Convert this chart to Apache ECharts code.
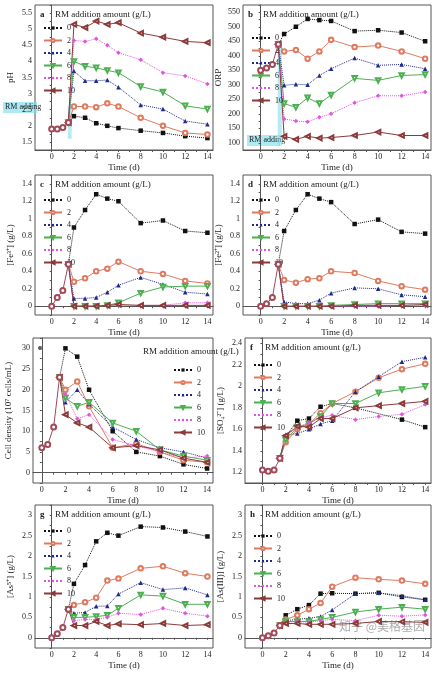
<!DOCTYPE html>
<html>
<head>
<meta charset="utf-8">
<script src="https://cdn.jsdelivr.net/npm/echarts@6/dist/echarts.min.js"></script>
<style>
  html, body { margin: 0; padding: 0; background: #fff; }
  #chart { width: 437px; height: 673px; }
</style>
</head>
<body>
<div id="chart"></div>
<script>
// time points
const preTimes = [0, 0.5, 1, 1.5];
const times = [2, 3, 4, 5, 6, 8, 10, 12, 14];
const doses = ['0', '2', '4', '6', '8', '10'];

// a: pH
const phPre = [1.9, 1.9, 1.95, 2.1];
const phData = [
    [2.3, 2.25, 2.08, 2.0, 1.93, 1.85, 1.78, 1.68, 1.62],
    [2.6, 2.6, 2.58, 2.7, 2.6, 2.25, 2.0, 1.78, 1.73],
    [3.7, 3.4, 3.4, 3.42, 3.2, 2.65, 2.52, 2.15, 2.05],
    [4.0, 3.85, 3.8, 3.72, 3.65, 3.22, 3.05, 2.62, 2.52],
    [4.65, 4.62, 4.7, 4.5, 4.27, 4.05, 3.65, 3.55, 3.3],
    [5.15, 5.05, 5.25, 5.15, 5.2, 4.88, 4.75, 4.62, 4.58]
];
// b: ORP
const orpPre = [350, 358, 370, 440];
const orpData = [
    [475, 500, 527, 523, 520, 485, 488, 480, 450],
    [415, 420, 390, 415, 455, 430, 435, 415, 390],
    [298, 302, 300, 332, 355, 392, 367, 370, 355],
    [235, 222, 255, 235, 265, 322, 315, 332, 335],
    [182, 175, 172, 188, 200, 238, 262, 262, 275],
    [122, 112, 122, 116, 118, 125, 137, 125, 125]
];
// c: Fe3+
const fe3Pre = [0, 0.1, 0.18, 0.48];
const fe3Data = [
    [0.9, 1.1, 1.28, 1.23, 1.2, 0.95, 0.98, 0.86, 0.84],
    [0.28, 0.32, 0.4, 0.43, 0.51, 0.4, 0.37, 0.29, 0.26],
    [0.09, 0.09, 0.1, 0.16, 0.24, 0.33, 0.25, 0.16, 0.14],
    [0, 0, 0, 0.01, 0.04, 0.15, 0.22, 0.23, 0.23],
    [0.01, 0.01, 0.01, 0.01, 0.01, 0.01, 0.01, 0.04, 0.04],
    [0, 0, 0, 0.01, 0.02, 0.01, 0.01, 0.01, 0.01]
];
// d: Fe2+
const fe2Pre = [0, 0.03, 0.1, 0.48];
const fe2Data = [
    [0.86, 1.1, 1.28, 1.23, 1.19, 0.94, 0.99, 0.85, 0.83],
    [0.3, 0.27, 0.31, 0.32, 0.4, 0.38, 0.29, 0.23, 0.19],
    [0.05, 0.03, 0.03, 0.07, 0.15, 0.21, 0.2, 0.13, 0.11],
    [0, 0, 0, 0, 0.01, 0.02, 0.03, 0.03, 0.03],
    [0, 0, 0, 0, 0, 0, 0, 0.01, 0.01],
    [0, 0, 0, 0, 0, 0.01, 0.01, 0.01, 0.02]
];
// e: cell density (no sample at day 5)
const cellPre = [6, 6.8, 11, 23];
const cellData = [
    [30, 28, 20, null, 10, 5, 4, 2, 1],
    [20, 22, 16, null, 6, 7, 5, 3, 2.5],
    [17, 20, 16.5, null, 11, 8, 6, 5, 3.5],
    [18, 16, 17, null, 12, 10, 5.5, 4, 3],
    [19, 13, 14, null, 8, 6.5, 5, 3.5, 4],
    [14, 12, 11, null, 6, 6.5, 5.5, 3.5, 2.5]
];
// f: SO4 2-
const so4Pre = [1.22, 1.21, 1.22, 1.33];
const so4Data = [
    [1.53, 1.68, 1.7, 1.81, 1.84, 1.8, null, 1.69, 1.62],
    [1.48, 1.6, 1.65, 1.75, 1.84, 1.95, 2.08, 2.16, 2.21],
    [1.55, 1.56, 1.6, 1.65, 1.68, 1.95, 2.09, 2.23, 2.27],
    [1.5, 1.62, 1.65, 1.72, 1.84, 1.84, 1.94, 1.97, 2.0],
    [1.54, 1.62, 1.66, 1.71, 1.73, 1.69, 1.72, 1.74, 1.83],
    [1.54, 1.63, 1.62, 1.7, 1.7, 1.8, 1.82, 1.84, 1.86]
];
// g: As5+
const as5Pre = [0, 0.1, 0.25, 0.7];
const as5Data = [
    [1.32, 1.78, 2.36, 2.57, 2.5, 2.72, 2.7, 2.6, 2.48],
    [0.8, 0.87, 0.98, 1.4, 1.45, 1.7, 1.75, 1.58, 1.5],
    [0.6, 0.62, 0.77, 0.78, 1.07, 1.35, 1.18, 1.22, 1.05],
    [0.5, 0.5, 0.52, 0.55, 0.72, 1.05, 1.02, 0.82, 0.82],
    [0.42, 0.45, 0.45, 0.5, 0.6, 0.57, 0.72, 0.6, 0.53],
    [0.3, 0.3, 0.4, 0.3, 0.34, 0.32, 0.35, 0.3, 0.32]
];
// h: As(III)
const as3Pre = [0, 0.05, 0.12, 0.3];
const as3Data = [
    [0.55, 0.7, 0.8, 1.08, 1.09, 1.08, 1.1, 1.0, 0.93],
    [0.45, 0.55, 0.7, 0.85, 1.25, 1.47, 1.43, 1.4, 1.32],
    [0.42, 0.45, 0.48, 0.52, 0.68, 1.08, 1.1, 1.03, 0.93],
    [0.4, 0.4, 0.4, 0.45, 0.5, 0.63, 0.7, 0.75, 0.7],
    [0.38, 0.4, 0.38, 0.42, 0.45, 0.42, 0.55, 0.53, 0.56],
    [0.35, 0.35, 0.33, 0.33, 0.33, 0.35, 0.4, 0.39, 0.38]
];

const colors = ['#111111', '#e07a5f', '#1f2a8a', '#4caf50', '#e055e0', '#8b3a3a'];
const symbols = ['rect', 'emptyCircle', 'triangle', 'emptyTriangle', 'diamond', 'emptyTriangle'];
const rotates = [0, 0, 0, 180, 0, 90];
const dashed = [true, false, true, false, true, false];
const preColor = '#a04a5a';
const serif = 'Liberation Serif';

const panels = [
    { key: 'a', pre: phPre, data: phData, name: 'pH', min: 1.25, max: 5.75, step: 0.25, show: 0.5,
      rect: { left: 35, top: 5, width: 178, height: 145 }, legend: { left: 38, top: 19 }, adding: [1.6, 2.6] },
    { key: 'b', pre: orpPre, data: orpData, name: 'ORP', min: 75, max: 575, step: 25, show: 50,
      rect: { left: 243, top: 5, width: 188, height: 145 }, legend: { left: 246, top: 29 }, adding: [90, 440] },
    { key: 'c', pre: fe3Pre, data: fe3Data, name: '[Fe³⁺] (g/L)', min: -0.1, max: 1.5, step: 0.1, show: 0.2,
      rect: { left: 35, top: 175, width: 178, height: 140 }, legend: { left: 38, top: 191 } },
    { key: 'd', pre: fe2Pre, data: fe2Data, name: '[Fe²⁺] (g/L)', min: -0.1, max: 1.5, step: 0.1, show: 0.2,
      rect: { left: 243, top: 175, width: 188, height: 140 }, legend: { left: 246, top: 191 } },
    { key: 'e', pre: cellPre, data: cellData, name: 'Cell density (10⁷ cells/mL)', min: -2.5, max: 32.5, step: 2.5, show: 5,
      rect: { left: 33, top: 338, width: 180, height: 145 }, legend: { left: 168, top: 361 }, xmin: -0.75 },
    { key: 'f', pre: so4Pre, data: so4Data, name: '[SO₄²⁻] (g/L)', min: 1.1, max: 2.45, step: 0.1, show: 0.2,
      rect: { left: 245, top: 338, width: 186, height: 145 }, legend: { left: 248, top: 356 } },
    { key: 'g', pre: as5Pre, data: as5Data, name: '[As⁵⁺] (g/L)', min: -0.25, max: 3.25, step: 0.25, show: 0.5,
      rect: { left: 35, top: 505, width: 178, height: 143 }, legend: { left: 38, top: 522 } },
    { key: 'h', pre: as3Pre, data: as3Data, name: '[As(III)] (g/L)', min: -0.25, max: 3.25, step: 0.25, show: 0.5,
      rect: { left: 245, top: 505, width: 186, height: 143 }, legend: { left: 248, top: 527 } }
];

function isMultiple(v, m) {
    return Math.abs(v / m - Math.round(v / m)) < 1e-6;
}

const grid = [], xAxis = [], yAxis = [], series = [], legend = [], graphic = [];

panels.forEach(function(p, i) {
    grid.push(Object.assign({ show: true, borderColor: '#555', borderWidth: 1 }, p.rect));
    xAxis.push({
        type: 'value', gridIndex: i, min: p.xmin !== undefined ? p.xmin : -1.5, max: 14.5, interval: 0.5,
        name: 'Time (d)', nameLocation: 'middle', nameGap: 13,
        nameTextStyle: { fontFamily: serif, fontSize: 9, color: '#222' },
        axisLine: { lineStyle: { color: '#555' } },
        axisTick: { length: 2, lineStyle: { color: '#555' },
            customValues: [0, 1, 2, 3, 4, 5, 6, 7, 8, 9, 10, 11, 12, 13, 14] },
        axisLabel: { fontFamily: serif, fontSize: 8, color: '#222', margin: 3,
            customValues: [0, 2, 4, 6, 8, 10, 12, 14] },
        splitLine: { show: false }
    });
    yAxis.push({
        type: 'value', gridIndex: i, min: p.min, max: p.max, interval: p.step,
        name: p.name, nameLocation: 'middle', nameGap: 20, nameRotate: 90,
        nameTextStyle: { fontFamily: serif, fontSize: 9, color: '#222' },
        axisLine: { lineStyle: { color: '#555' } },
        axisTick: { length: 2, lineStyle: { color: '#555' } },
        axisLabel: { fontFamily: serif, fontSize: 8, color: '#222', margin: 3,
            formatter: function(v) {
                if (!isMultiple(v, p.show) || v > p.max - p.step * 0.5 || v < p.min + p.step * 0.5) return '';
                return String(Math.round(v * 100) / 100);
            } },
        splitLine: { show: false }
    });
    // shared start-up points
    series.push({
        type: 'line', name: 'pre', xAxisIndex: i, yAxisIndex: i,
        data: preTimes.map(function(t, k) { return [t, p.pre[k]]; }),
        symbol: 'emptyCircle', symbolSize: 5, z: 5,
        itemStyle: { color: preColor }, lineStyle: { color: preColor, width: 1 }
    });
    p.data.forEach(function(vals, s) {
        const pts = [[1.5, p.pre[3]]];
        vals.forEach(function(v, k) { if (v !== null) pts.push([times[k], v]); });
        series.push({
            type: 'line', name: doses[s], xAxisIndex: i, yAxisIndex: i, data: pts,
            symbol: symbols[s], symbolRotate: rotates[s], symbolSize: 4.5,
            itemStyle: { color: colors[s] },
            lineStyle: { color: colors[s], width: 1, type: dashed[s] ? 'dotted' : 'solid' },
            markArea: (s === 0 && p.adding) ? {
                silent: true, itemStyle: { color: 'rgba(120,220,235,0.55)' },
                data: [[{ xAxis: 1.45, yAxis: p.adding[0] }, { xAxis: 1.8, yAxis: p.adding[1] }]]
            } : undefined
        });
    });
    legend.push(Object.assign({
        orient: 'vertical', data: doses, itemWidth: 18, itemHeight: 4, itemGap: 4.5,
        symbolRotate: 'inherit',
        textStyle: { fontFamily: serif, fontSize: 8, color: '#222' }
    }, p.legend));
    const r = p.rect;
    graphic.push({ type: 'text', left: r.left + 5, top: r.top + 5,
        style: { text: p.key, font: 'bold 9px "Liberation Serif"', fill: '#222' } });
    graphic.push({ type: 'text', left: p.key === 'e' ? r.left + 110 : r.left + 20, top: r.top + (p.key === 'e' ? 9 : 5),
        style: { text: 'RM addition amount (g/L)', font: '9px "Liberation Serif"', fill: '#222' } });
});

// "RM adding" notes on a and b
graphic.push({ type: 'rect', shape: { x: 3, y: 102, width: 34, height: 11 }, style: { fill: 'rgba(120,220,235,0.6)' } });
graphic.push({ type: 'text', left: 5, top: 103, style: { text: 'RM adding', font: '8px "Liberation Serif"', fill: '#222' } });
graphic.push({ type: 'rect', shape: { x: 247, y: 135, width: 33, height: 11 }, style: { fill: 'rgba(120,220,235,0.6)' } });
graphic.push({ type: 'text', left: 249, top: 136, style: { text: 'RM adding', font: '8px "Liberation Serif"', fill: '#222' } });
graphic.push({ type: 'text', right: 12, top: 620,
    style: { text: '知乎 @美格基因', font: '12px "Noto Sans CJK SC"', fill: 'rgba(150,150,150,0.8)' } });

const chart = echarts.init(document.getElementById('chart'));
chart.setOption({
    animation: false,
    backgroundColor: '#fff',
    grid: grid, xAxis: xAxis, yAxis: yAxis, series: series, legend: legend, graphic: graphic
});
</script>
</body>
</html>
